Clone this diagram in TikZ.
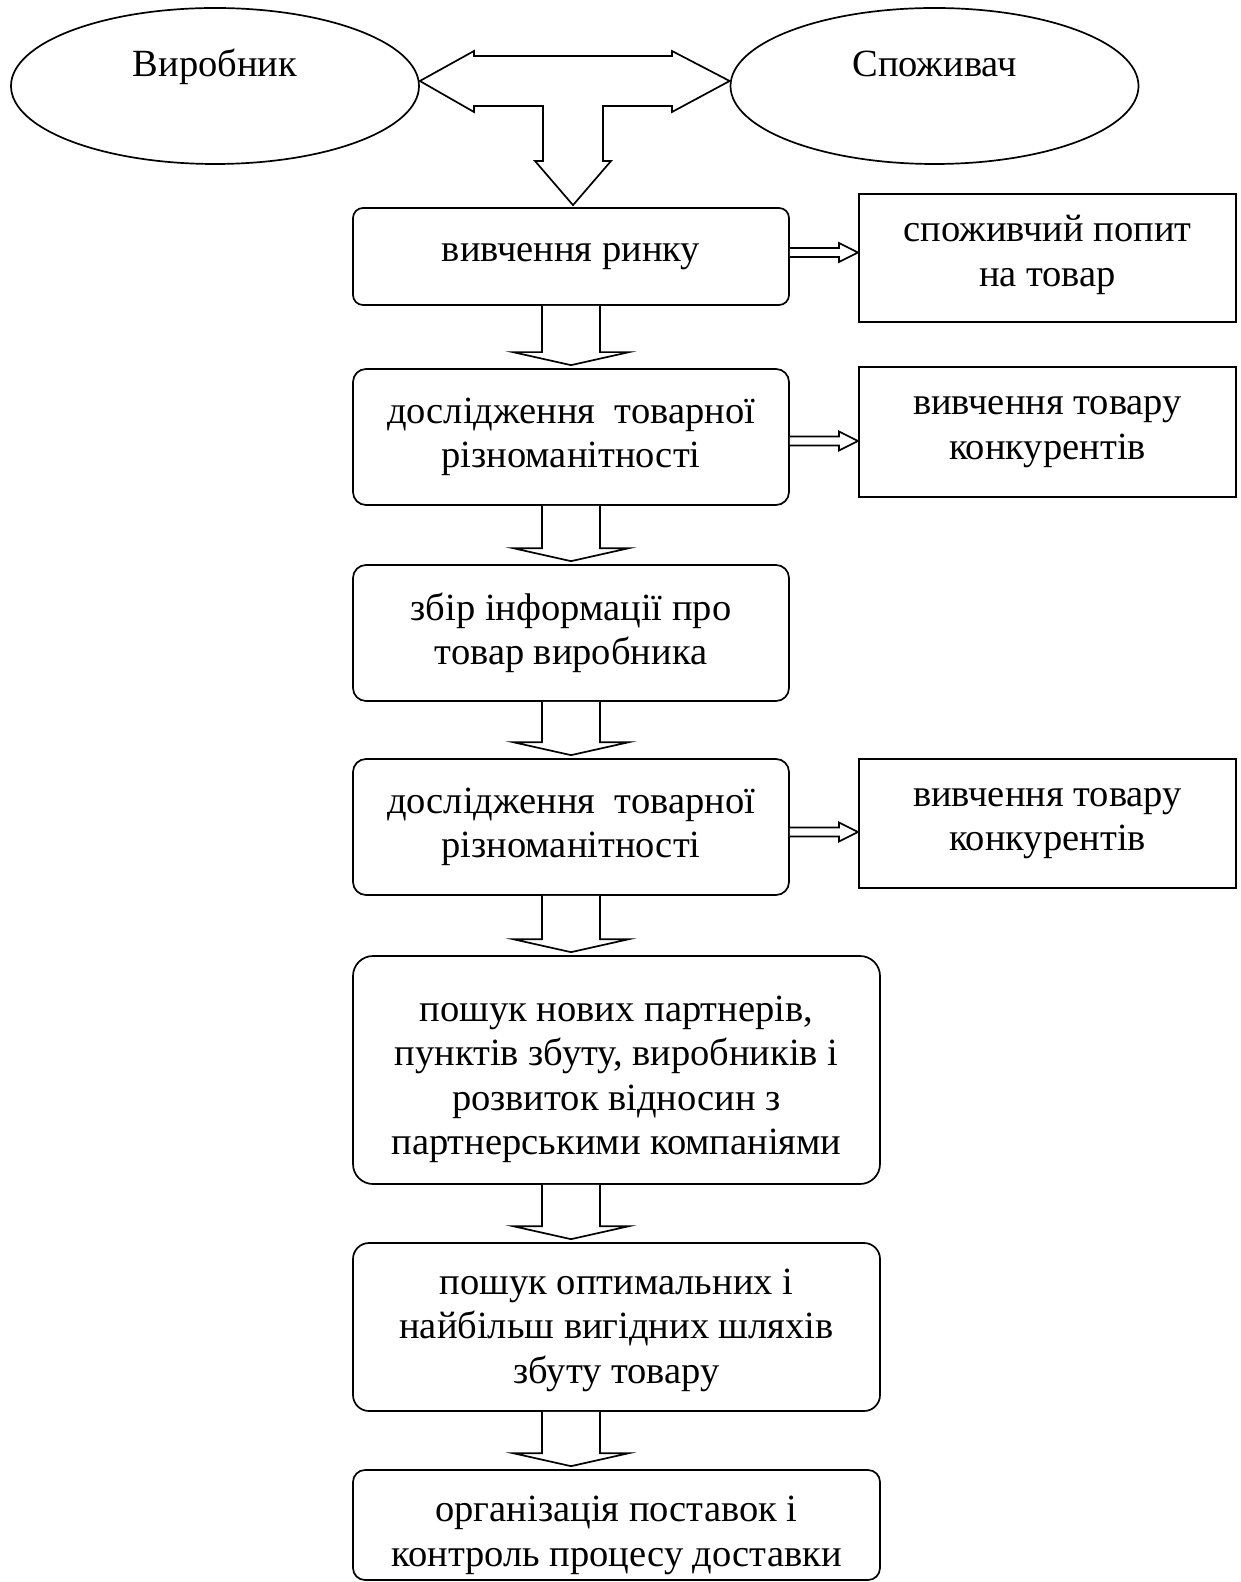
\documentclass[tikz,border=0pt]{standalone}
\usepackage{fontspec}
\setmainfont{Liberation Serif}
\usetikzlibrary{shapes.geometric,calc}
\newcommand\blockdown[2]{%
  \draw[blk] ($(ax|-#1.south)+(-29,0)$) -- ($(ax|-#2.north)+(-29,-16)$) -- ($(ax|-#2.north)+(-58,-16)$)
    -- ($(ax|-#2.north)+(0,-3)$) -- ($(ax|-#2.north)+(58,-16)$) -- ($(ax|-#2.north)+(29,-16)$)
    -- ($(ax|-#1.south)+(29,0)$);}
\newcommand\sidearrow[3]{%
  \draw[blk] ($(#1.east|-#3)+(0,-4.5)$) -- ($(#2.west|-#3)+(-19,-4.5)$) -- ($(#2.west|-#3)+(-19,-9.5)$)
    -- (#2.west|-#3) -- ($(#2.west|-#3)+(-19,9.5)$) -- ($(#2.west|-#3)+(-19,4.5)$)
    -- ($(#1.east|-#3)+(0,4.5)$);}
\newcommand\lowered[2]{\raisebox{#1}[\height][\depth]{\begin{tabular}{@{}c@{}}#2\end{tabular}}}
\begin{document}
\begin{tikzpicture}[x=0.5pt,y=-0.5pt,
  every node/.style={font=\fontsize{19.25pt}{22.25pt}\selectfont},
  lw/.style={line width=0.85pt},
  oval/.style={draw,lw,ellipse,minimum width=204pt,minimum height=78pt,inner sep=0pt},
  rbox/.style={draw,lw,rounded corners=#1,align=center,inner sep=0pt},
  rbox/.default=6pt,
  sbox/.style={draw,line width=1.1pt,align=center,inner sep=0pt,minimum width=188.5pt},
  blk/.style={draw,lw,fill=white,line join=miter}]
\useasboundingbox (0,0) rectangle (1240,1582);
\coordinate (ax) at (571,0);
\coordinate (s1) at (0,252.5);
\coordinate (s2) at (0,441);
\coordinate (s3) at (0,832);

% ovals
\node[oval] (prod) at (215,86) {};
\node[anchor=base] (prodt) at (215,77) {Виробник};
\node[oval] (cons) at (934.5,86) {};
\node[anchor=base] (const) at (934.5,77) {Споживач};

% main boxes
\node[rbox=5pt,minimum width=218pt,minimum height=48.5pt] (b1) at (571,256.5) {вивчення ринку};
\node[rbox=6.5pt,minimum width=218pt,minimum height=68pt] (b2) at (571,437) {дослідження~ товарної\\різноманітності};
\node[rbox=6.5pt,minimum width=218pt,minimum height=68pt] (b3) at (571,633) {збір інформації про\\товар виробника};
\node[rbox=6.5pt,minimum width=218pt,minimum height=68pt] (b4) at (571,827) {дослідження~ товарної\\різноманітності};
\node[rbox=10pt,minimum width=263.5pt,minimum height=114pt] (b5) at (616.5,1070) {\lowered{-4.5pt}{пошук нових партнерів,\\пунктів збуту, виробників і\\розвиток відносин з\\партнерськими компаніями}};
\node[rbox=8pt,minimum width=263.5pt,minimum height=84pt] (b6) at (616.5,1327) {\lowered{-1.5pt}{пошук оптимальних і\\найбільш вигідних шляхів\\збуту товару}};
\node[rbox=6pt,minimum width=263.5pt,minimum height=55pt] (b7) at (616.5,1525) {\lowered{-5pt}{організація поставок і\\контроль процесу доставки}};

% side boxes
\node[sbox,minimum height=64pt] (r1) at (1047.5,258) {\lowered{1.5pt}{споживчий попит\\на товар}};
\node[sbox,minimum height=65pt] (r2) at (1047.5,432) {вивчення товару\\конкурентів};
\node[sbox,minimum height=64.5pt] (r3) at (1047.5,823.5) {вивчення товару\\конкурентів};

% T-shaped block arrow
\draw[blk] (prod.east|-0,81) -- (474,51) -- (474,56) -- (672,56) -- (672,51) -- (cons.west|-0,81)
  -- (672,112) -- (672,106) -- (603,106) -- (603,161) -- (611,161) -- ($(b1.north)+(2,-2)$)
  -- (535,161) -- (543,161) -- (543,106) -- (474,106) -- (474,112) -- cycle;

% down block arrows
\blockdown{b1}{b2}
\blockdown{b2}{b3}
\blockdown{b3}{b4}
\blockdown{b4}{b5}
\blockdown{b5}{b6}
\blockdown{b6}{b7}

% side arrows
\sidearrow{b1}{r1}{s1}
\sidearrow{b2}{r2}{s2}
\sidearrow{b4}{r3}{s3}
\end{tikzpicture}
\end{document}
